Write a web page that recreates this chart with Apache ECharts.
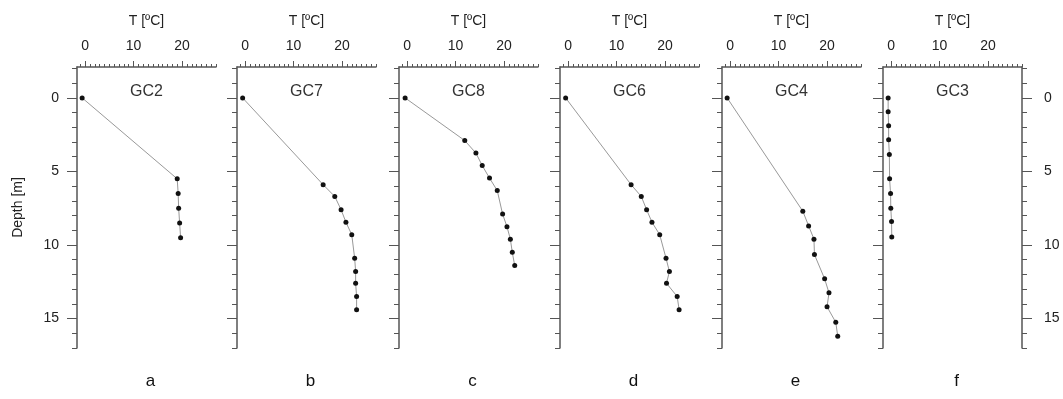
<!DOCTYPE html>
<html>
<head>
<meta charset="utf-8">
<script src="https://cdn.jsdelivr.net/npm/echarts@6/dist/echarts.min.js"></script>
<style>
html,body{margin:0;padding:0;background:#fff;}
#c{width:1063px;height:399px;}
</style>
</head>
<body>
<div id="c"></div>
<script>
// ---- data (temperature °C, depth m) ----
const coreNames = ['GC2', 'GC7', 'GC8', 'GC6', 'GC4', 'GC3'];
const panelLetters = ['a', 'b', 'c', 'd', 'e', 'f'];

const gc2Temp  = [-0.6, 19.0, 19.2, 19.3, 19.5, 19.7];
const gc2Depth = [0, 5.5, 6.5, 7.5, 8.5, 9.5];

const gc7Temp  = [-0.5, 16.1, 18.5, 19.8, 20.8, 22.0, 22.6, 22.8, 22.8, 23.0, 23.0];
const gc7Depth = [0, 5.9, 6.7, 7.6, 8.45, 9.3, 10.9, 11.8, 12.6, 13.5, 14.4];

const gc8Temp  = [-0.4, 11.9, 14.2, 15.5, 17.0, 18.6, 19.7, 20.6, 21.3, 21.7, 22.2];
const gc8Depth = [0, 2.9, 3.75, 4.6, 5.45, 6.3, 7.9, 8.75, 9.6, 10.5, 11.4];

const gc6Temp  = [-0.5, 13.0, 15.1, 16.2, 17.3, 18.9, 20.2, 20.9, 20.3, 22.5, 22.9];
const gc6Depth = [0, 5.9, 6.7, 7.6, 8.45, 9.3, 10.9, 11.8, 12.6, 13.5, 14.4];

const gc4Temp  = [-0.6, 15.0, 16.2, 17.3, 17.4, 19.5, 20.4, 20.0, 21.8, 22.2];
const gc4Depth = [0, 7.7, 8.7, 9.6, 10.65, 12.3, 13.25, 14.2, 15.25, 16.2];

const gc3Temp  = [-0.6, -0.6, -0.5, -0.5, -0.35, -0.3, -0.1, -0.05, 0.1, 0.15];
const gc3Depth = [0, 0.95, 1.9, 2.85, 3.85, 5.5, 6.5, 7.5, 8.4, 9.45];

const tempTicks  = [0, 10, 20];
const depthTicks = [0, 5, 10, 15];

const temps  = [gc2Temp, gc7Temp, gc8Temp, gc6Temp, gc4Temp, gc3Temp];
const depths = [gc2Depth, gc7Depth, gc8Depth, gc6Depth, gc4Depth, gc3Depth];

// ---- layout ----
const gridLefts = [77, 237, 399, 560, 722, 883];
const gridWidth = 139;
const gridTop = 67, gridBottom = 51;
const xMin = -1.66, xMax = 27;
const yMin = -2.1, yMax = 17;
const lineCol = '#555';
const textCol = '#222';
const FONT = '"Liberation Sans", Arial, sans-serif';

const minorX = []; for (let v = -1; v <= 27; v++) minorX.push(v);
const minorY = []; for (let v = -2; v <= 17; v++) minorY.push(v);

const grids = [], xAxes = [], yAxes = [], series = [], graphics = [];

coreNames.forEach((name, i) => {
  grids.push({left: gridLefts[i], width: gridWidth, top: gridTop, bottom: gridBottom, containLabel: false});
  // major top axis
  const xMain = xAxes.length;
  xAxes.push({
    type: 'value', gridIndex: i, position: 'top', min: xMin, max: xMax,
    name: 'T [ºC]', nameLocation: 'middle', nameGap: 39,
    nameTextStyle: {fontSize: 14, color: textCol, fontFamily: FONT},
    axisLine: {show: true, onZero: false, lineStyle: {color: lineCol, width: 1.5}},
    axisTick: {show: true, inside: false, length: 6, customValues: tempTicks, lineStyle: {color: lineCol, width: 1}},
    axisLabel: {show: true, customValues: tempTicks, margin: 14, fontSize: 14, color: textCol, fontFamily: FONT},
    splitLine: {show: false}
  });
  // minor top ticks
  xAxes.push({
    type: 'value', gridIndex: i, position: 'top', min: xMin, max: xMax, offset: 0,
    axisLine: {show: false, onZero: false},
    axisTick: {show: true, inside: false, length: 3, customValues: minorX, lineStyle: {color: lineCol, width: 1}},
    axisLabel: {show: false}, splitLine: {show: false}
  });
  // left y axis (major)
  const yMain = yAxes.length;
  yAxes.push({
    type: 'value', gridIndex: i, position: 'left', inverse: true, min: yMin, max: yMax,
    name: i === 0 ? 'Depth [m]' : '', nameLocation: 'middle', nameGap: 52,
    nameTextStyle: {fontSize: 14, color: textCol, fontFamily: FONT},
    axisLine: {show: true, onZero: false, lineStyle: {color: lineCol, width: 1.5}},
    axisTick: {show: true, inside: false, length: 10, customValues: depthTicks, lineStyle: {color: lineCol, width: 1}},
    axisLabel: {show: i === 0, customValues: depthTicks, margin: 18, fontSize: 14, color: textCol, fontFamily: FONT},
    splitLine: {show: false}
  });
  // left y axis (minor)
  yAxes.push({
    type: 'value', gridIndex: i, position: 'left', inverse: true, min: yMin, max: yMax, offset: 0,
    axisLine: {show: false, onZero: false},
    axisTick: {show: true, inside: false, length: 5, customValues: minorY, lineStyle: {color: lineCol, width: 1}},
    axisLabel: {show: false}, splitLine: {show: false}
  });
  if (i === coreNames.length - 1) {
    yAxes.push({
      type: 'value', gridIndex: i, position: 'right', inverse: true, min: yMin, max: yMax, offset: 0,
      axisLine: {show: true, onZero: false, lineStyle: {color: lineCol, width: 1.5}},
      axisTick: {show: true, inside: false, length: 10, customValues: depthTicks, lineStyle: {color: lineCol, width: 1}},
      axisLabel: {show: true, customValues: depthTicks, margin: 22, fontSize: 14, color: textCol, fontFamily: FONT},
      splitLine: {show: false}
    });
    yAxes.push({
      type: 'value', gridIndex: i, position: 'right', inverse: true, min: yMin, max: yMax, offset: 0,
      axisLine: {show: false, onZero: false},
      axisTick: {show: true, inside: false, length: 5, customValues: minorY, lineStyle: {color: lineCol, width: 1}},
      axisLabel: {show: false}, splitLine: {show: false}
    });
  }
  series.push({
    type: 'line', xAxisIndex: xMain, yAxisIndex: yMain,
    data: temps[i].map((t, k) => [t, depths[i][k]]),
    symbol: 'circle', symbolSize: 5, showSymbol: true,
    lineStyle: {color: '#999', width: 1},
    itemStyle: {color: '#111'},
    animation: false, silent: true
  });
  const cx = gridLefts[i] + gridWidth / 2;
  graphics.push({type: 'text', x: cx, y: 92, style: {text: name, fontSize: 16, fill: '#333', fontFamily: FONT, align: 'center', verticalAlign: 'middle'}});
  graphics.push({type: 'text', x: cx + 4, y: 381, style: {text: panelLetters[i], fontSize: 17, fill: '#111', fontFamily: FONT, align: 'center', verticalAlign: 'middle'}});
});

const chart = echarts.init(document.getElementById('c'), null, {renderer: 'canvas'});
chart.setOption({
  animation: false,
  backgroundColor: '#fff',
  grid: grids, xAxis: xAxes, yAxis: yAxes, series: series, graphic: graphics
});
</script>
</body>
</html>
